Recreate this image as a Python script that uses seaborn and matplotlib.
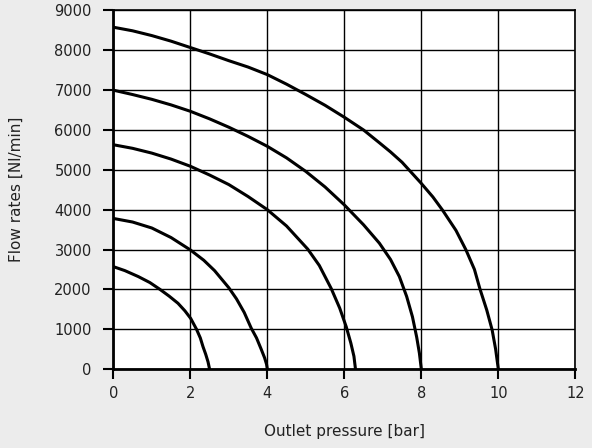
import pandas as pd
import matplotlib.pyplot as plt
import seaborn as sns

# outlet pressure [bar] / flow rate [Nl/min] points
p_25 = [0, 0.3, 0.65, 0.95, 1.21, 1.45, 1.68, 1.86, 2.01, 2.16, 2.26, 2.33, 2.4, 2.46, 2.5]
q_25 = [2570, 2470, 2320, 2170, 2000, 1830, 1650, 1460, 1270, 1000, 780, 560, 370, 180, 0]

p_40 = [0, 0.5, 1.0, 1.5, 2.0, 2.35, 2.63, 3.0, 3.2, 3.4, 3.58, 3.72, 3.84, 3.93, 3.98, 4.0]
q_40 = [3780, 3690, 3540, 3300, 2990, 2730, 2470, 2040, 1760, 1420, 1030, 780, 500, 280, 120, 0]

p_63 = [0, 0.5, 1.0, 1.5, 2.0, 2.5, 3.0, 3.5, 4.0, 4.5, 5.05, 5.35, 5.66, 5.88, 6.05, 6.17, 6.25, 6.29]
q_63 = [5630, 5540, 5420, 5270, 5090, 4870, 4630, 4330, 4000, 3590, 3010, 2600, 2020, 1530, 1060, 650, 320, 0]

p_80 = [0, 0.5, 1.0, 1.5, 2.0, 2.5, 3.0, 3.5, 4.0, 4.5, 5.0, 5.5, 6.0, 6.5, 6.91, 7.2, 7.43,
        7.62, 7.77, 7.88, 7.95, 8.0]
q_80 = [7000, 6890, 6770, 6630, 6470, 6280, 6070, 5840, 5590, 5300, 4960, 4570, 4120, 3620, 3160,
        2750, 2320, 1820, 1310, 800, 400, 0]

p_100 = [0, 0.5, 1.0, 1.5, 2.0, 2.5, 3.0, 3.5, 4.0, 4.5, 5.0, 5.5, 6.0, 6.5, 6.91, 7.2, 7.5, 7.99,
         8.3, 8.55, 8.9, 9.16, 9.38, 9.52, 9.7, 9.84, 9.93, 10.0]
q_100 = [8580, 8490, 8370, 8230, 8070, 7910, 7740, 7580, 7390, 7150, 6890, 6620, 6320, 6000, 5680,
         5450, 5190, 4670, 4320, 3990, 3480, 2990, 2500, 2020, 1480, 980, 500, 0]

curves = [(p_25, q_25), (p_40, q_40), (p_63, q_63), (p_80, q_80), (p_100, q_100)]

x_ticks = [0, 2, 4, 6, 8, 10, 12]
y_ticks = [0, 1000, 2000, 3000, 4000, 5000, 6000, 7000, 8000, 9000]

sns.set_style('white')
plt.rcParams['font.family'] = ['DejaVu Sans']

fig = plt.figure(figsize=(5.92, 4.48), dpi=100, facecolor='#ececec')
ax = fig.add_axes([0.1914, 0.1763, 0.7804, 0.8003])
ax.set_facecolor('white')

for p, q in curves:
    df = pd.DataFrame({'p': p, 'q': q})
    sns.lineplot(data=df, x='p', y='q', ax=ax, color='black', linewidth=2.2, sort=False, zorder=3)

ax.set_xlim(0, 12)
ax.set_ylim(0, 9000)
ax.set_xticks(x_ticks)
ax.set_yticks(y_ticks)
ax.grid(True, color='black', linewidth=1.0)
ax.set_axisbelow(True)

for side in ['left', 'bottom']:
    ax.spines[side].set_linewidth(2.0)
for side in ['top', 'right']:
    ax.spines[side].set_linewidth(1.2)
for s in ax.spines.values():
    s.set_color('black')

ax.tick_params(axis='both', direction='out', length=7.5, width=1.5, color='black',
               labelsize=10.5, labelcolor='#222222', bottom=True, left=True)
ax.tick_params(axis='y', pad=8)
ax.tick_params(axis='x', pad=5)

ax.set_xlabel('Outlet pressure [bar]', fontsize=11, color='#222222', labelpad=16)
ax.set_ylabel('Flow rates [Nl/min]', fontsize=11, color='#222222', labelpad=22)

fig.savefig('out.png', dpi=100, facecolor=fig.get_facecolor())
